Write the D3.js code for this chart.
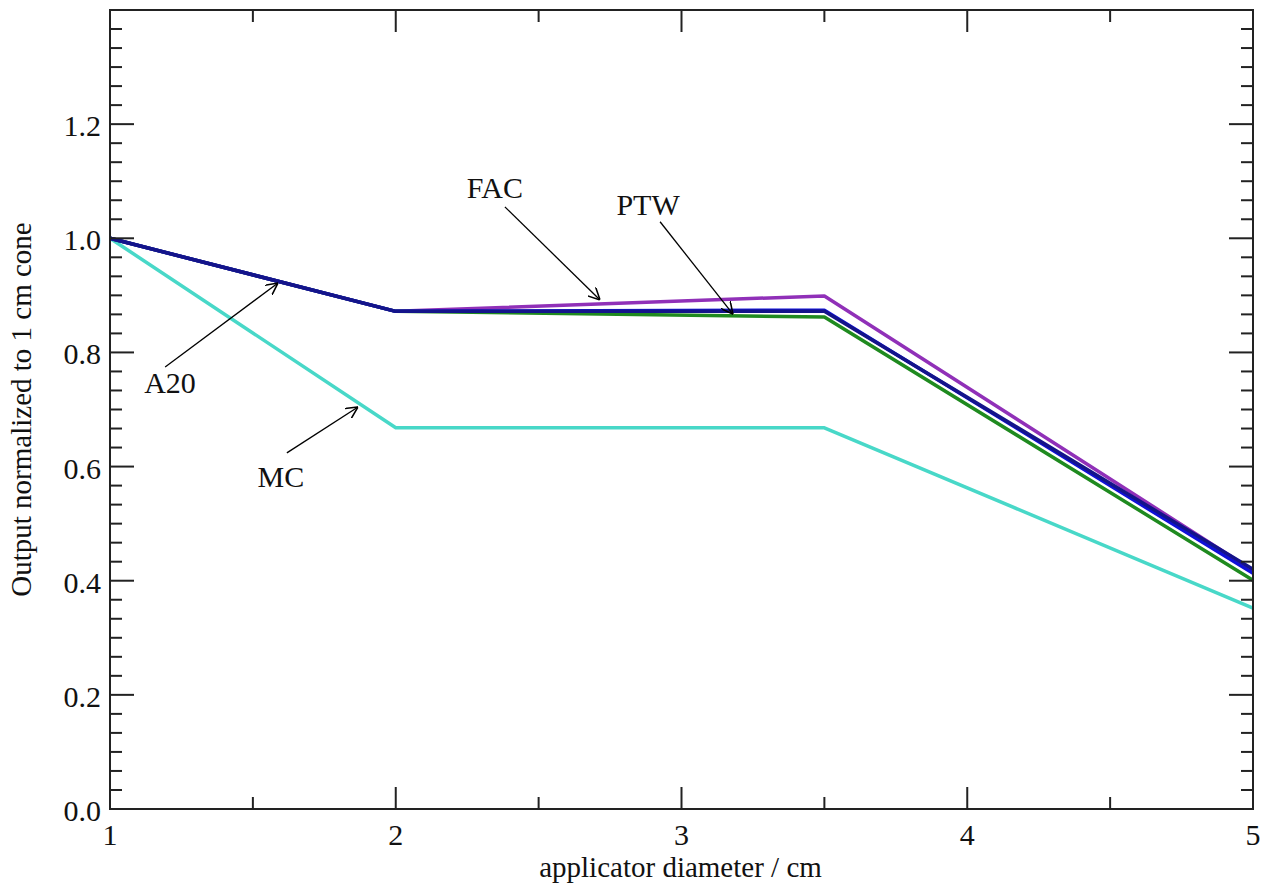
<!DOCTYPE html>
<html>
<head>
<meta charset="utf-8">
<script src="https://cdn.jsdelivr.net/npm/d3@7"></script>
<style>
  body { margin: 0; background: #fff; }
  text { font-family: "Liberation Serif", "DejaVu Serif", serif; fill: #111; }
</style>
</head>
<body>
<div class="chart"></div>
<script>
// data
const diameters = [1, 2, 3.5, 5]
const seriesNames = ["MC", "FAC", "green", "PTW", "A20"]
const seriesColors = ["#48d8c8", "#9030b8", "#1f8a1f", "#1010d8", "#14148a"]
const mcValues = [1.0, 0.668, 0.668, 0.352]
const facValues = [1.0, 0.872, 0.899, 0.418]
const greenValues = [1.0, 0.872, 0.862, 0.401]
const ptwValues = [1.0, 0.872, 0.874, 0.413]
const a20Values = [1.0, 0.872, 0.872, 0.420]
const xTicks = [1, 2, 3, 4, 5]
const yTicks = [0, 0.2, 0.4, 0.6, 0.8, 1.0, 1.2]

// labels + arrows (text baseline, arrow start, arrow end) in data coords
const notes = [
  {t: "FAC", x: 2.347, y: 1.071, x1: 2.382, y1: 1.055, x2: 2.715, y2: 0.892},
  {t: "PTW", x: 2.883, y: 1.041, x1: 2.925, y1: 1.029, x2: 3.18, y2: 0.867},
  {t: "A20", x: 1.21, y: 0.729, x1: 1.193, y1: 0.7745, x2: 1.588, y2: 0.9217},
  {t: "MC", x: 1.598, y: 0.564, x1: 1.619, y1: 0.624, x2: 1.868, y2: 0.7044}
]

const w = 1265
const h = 886
const pLeft = 110, pRight = 1253, pTop = 10, pBottom = 809

const svg = d3.select(".chart").append("svg")
  .attr("width", w).attr("height", h)

const x = d3.scaleLinear().domain([1, 5]).range([pLeft, pRight])
const y = d3.scaleLinear().domain([0, 1.4]).range([pBottom, pTop])

svg.append("defs").append("marker")
  .attr("id", "arr")
  .attr("viewBox", "0 0 10 10")
  .attr("refX", 10).attr("refY", 5)
  .attr("markerWidth", 12).attr("markerHeight", 12)
  .attr("markerUnits", "userSpaceOnUse")
  .attr("orient", "auto")
  .append("path")
  .attr("d", "M0,0 L10,5 L0,10")
  .attr("fill", "none").attr("stroke", "#000").attr("stroke-width", 1.3)

// lines
const all = [mcValues, facValues, greenValues, ptwValues, a20Values]
const line = d3.line().x((d, i) => x(diameters[i])).y(d => y(d))
all.forEach((vals, k) => {
  svg.append("path")
    .attr("d", line(vals))
    .attr("fill", "none")
    .attr("stroke", seriesColors[k])
    .attr("stroke-width", 3.5)
    .attr("stroke-linejoin", "round")
})

// frame
svg.append("rect")
  .attr("x", pLeft).attr("y", pTop)
  .attr("width", pRight - pLeft).attr("height", pBottom - pTop)
  .attr("fill", "none").attr("stroke", "#222").attr("stroke-width", 2)

// ticks on all four sides
const xMinor = d3.range(1.5, 5, 1)
const yMinor = d3.range(0, 1.4001, 0.2 / 6).filter(v => Math.abs(v / 0.2 - Math.round(v / 0.2)) > 0.01)
const tk = svg.append("g").attr("stroke", "#222").attr("stroke-width", 2)
xTicks.forEach(v => {
  tk.append("line").attr("x1", x(v)).attr("x2", x(v)).attr("y1", pBottom).attr("y2", pBottom - 22)
  tk.append("line").attr("x1", x(v)).attr("x2", x(v)).attr("y1", pTop).attr("y2", pTop + 22)
})
xMinor.forEach(v => {
  tk.append("line").attr("x1", x(v)).attr("x2", x(v)).attr("y1", pBottom).attr("y2", pBottom - 12)
  tk.append("line").attr("x1", x(v)).attr("x2", x(v)).attr("y1", pTop).attr("y2", pTop + 12)
})
yTicks.concat([1.4]).forEach(v => {
  tk.append("line").attr("y1", y(v)).attr("y2", y(v)).attr("x1", pLeft).attr("x2", pLeft + 24)
  tk.append("line").attr("y1", y(v)).attr("y2", y(v)).attr("x1", pRight).attr("x2", pRight - 24)
})
yMinor.forEach(v => {
  tk.append("line").attr("y1", y(v)).attr("y2", y(v)).attr("x1", pLeft).attr("x2", pLeft + 12)
  tk.append("line").attr("y1", y(v)).attr("y2", y(v)).attr("x1", pRight).attr("x2", pRight - 12)
})

// tick labels
svg.selectAll(".xl").data(xTicks).enter().append("text")
  .attr("x", d => x(d)).attr("y", 845)
  .attr("text-anchor", "middle").attr("font-size", 30)
  .text(d => d)
svg.selectAll(".yl").data(yTicks).enter().append("text")
  .attr("x", pLeft - 9).attr("y", d => y(d) + 12)
  .attr("text-anchor", "end").attr("font-size", 30)
  .text(d => d3.format(".1f")(d))

// axis titles
svg.append("text")
  .attr("x", (pLeft + pRight) / 2 - 1).attr("y", 877)
  .attr("text-anchor", "middle").attr("font-size", 29)
  .text("applicator diameter / cm")
svg.append("text")
  .attr("transform", "translate(31," + ((pTop + pBottom) / 2) + ") rotate(-90)")
  .attr("text-anchor", "middle").attr("font-size", 29)
  .text("Output normalized to 1 cm cone")

// annotations
notes.forEach(n => {
  svg.append("text").attr("x", x(n.x)).attr("y", y(n.y))
    .attr("text-anchor", "middle").attr("font-size", 30).text(n.t)
  svg.append("line")
    .attr("x1", x(n.x1)).attr("y1", y(n.y1))
    .attr("x2", x(n.x2)).attr("y2", y(n.y2))
    .attr("stroke", "#000").attr("stroke-width", 1.3)
    .attr("marker-end", "url(#arr)")
})
</script>
</body>
</html>
